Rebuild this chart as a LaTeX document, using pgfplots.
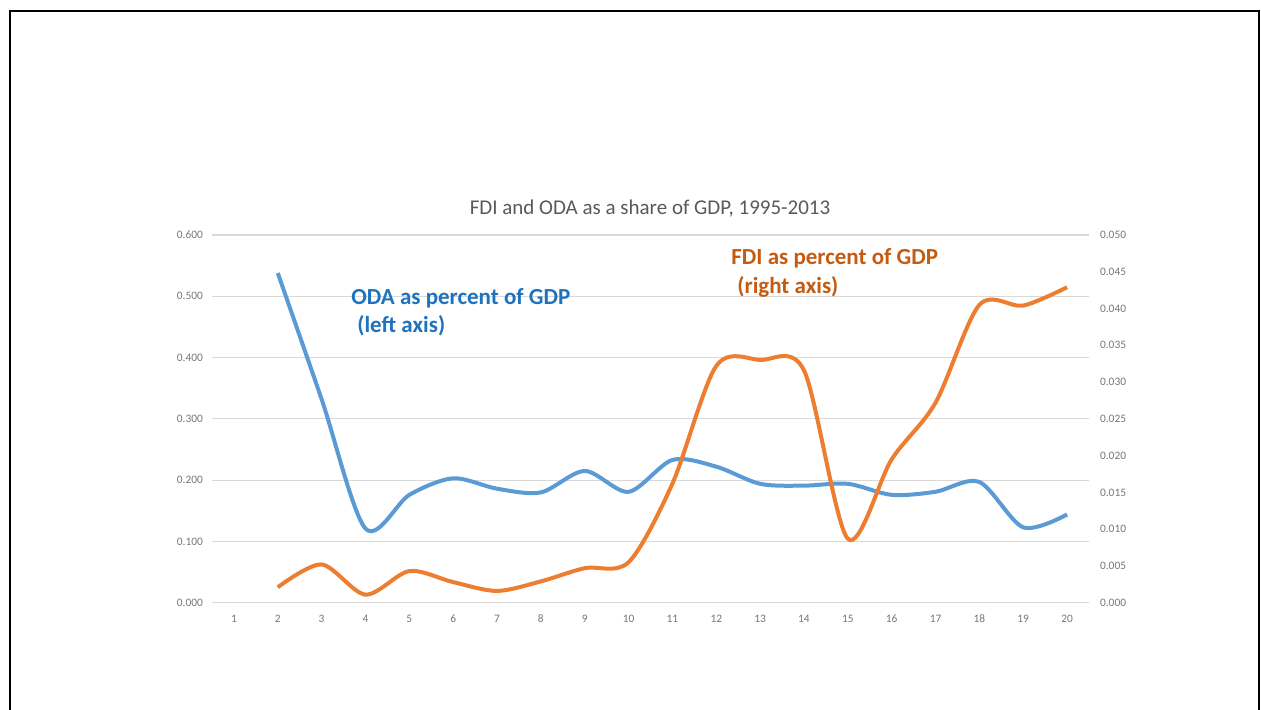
\documentclass[border=0pt]{standalone}
\usepackage{fontspec}
\setmainfont{Carlito}
\usepackage{pgfplots}
\pgfplotsset{compat=1.18}
\definecolor{odablue}{RGB}{91,155,213}
\definecolor{fdiorange}{RGB}{237,125,49}
\definecolor{odatext}{RGB}{30,115,190}
\definecolor{fditext}{RGB}{197,90,17}
\definecolor{gridgray}{RGB}{217,217,217}
\definecolor{ticktext}{RGB}{118,118,118}
\definecolor{titletext}{RGB}{89,89,89}
\begin{document}
\begin{tikzpicture}
\path[use as bounding box] (0,0) rectangle (630.5pt,354.5pt);
\draw[line width=1.1pt,black] (5pt,-2pt) -- (5pt,349pt) -- (629.5pt,349pt) -- (629.5pt,-2pt);
\pgfplotsset{
  common/.style={
    at={(106pt,53.15pt)}, anchor=south west,
    scale only axis, width=438.5pt, height=183.85pt,
    xmin=0.5, xmax=20.5,
    axis line style={draw=none},
    major tick length=0pt,
    tick label style={font=\fontsize{5.7}{6}\selectfont, text=ticktext},
    /pgf/number format/assume math mode=true,
    scaled y ticks=false,
    clip=false,
  }
}
\begin{axis}[common,
  ymin=0, ymax=0.6, ytick={0,0.1,...,0.6},
  ymajorgrids, grid style={gridgray, line width=0.6pt},
  yticklabel style={/pgf/number format/fixed, /pgf/number format/fixed zerofill, /pgf/number format/precision=3, xshift=-1pt},
  xtick={1,...,20},
  xticklabel style={yshift=-2.5pt},
]
\addplot[odablue, line width=2pt, smooth, tension=0.5] coordinates {
(2,0.538) (3,0.332) (4,0.121) (5,0.176) (6,0.203) (7,0.186) (8,0.180)
(9,0.215) (10,0.181) (11,0.233) (12,0.222) (13,0.194) (14,0.191)
(15,0.194) (16,0.176) (17,0.181) (18,0.197) (19,0.123) (20,0.144)};
\end{axis}
\begin{axis}[common,
  axis x line=none,
  axis y line*=right,
  ymin=0, ymax=0.05, ytick={0,0.005,...,0.0501},
  yticklabel style={/pgf/number format/fixed, /pgf/number format/fixed zerofill, /pgf/number format/precision=3, xshift=2pt},
]
\addplot[fdiorange, line width=2pt, smooth, tension=0.5] coordinates {
(2,0.0021) (3,0.0052) (4,0.0011) (5,0.0043) (6,0.0028) (7,0.0016) (8,0.0029)
(9,0.0047) (10,0.0055) (11,0.0162) (12,0.0322) (13,0.0330) (14,0.0316)
(15,0.0087) (16,0.0195) (17,0.0272) (18,0.0405) (19,0.0404) (20,0.0429)};
\end{axis}
\node[font=\fontsize{10.5}{12}\selectfont, text=titletext] at (325pt,250pt) {FDI and ODA as a share of GDP, 1995-2013};
\node[font=\bfseries\fontsize{11.5}{13}\selectfont, text=odatext, anchor=west, inner sep=0pt] at (175.5pt,205.5pt) {ODA as percent of GDP};
\node[font=\bfseries\fontsize{11.5}{13}\selectfont, text=odatext, anchor=west, inner sep=0pt] at (178.5pt,191.5pt) {(left axis)};
\node[font=\bfseries\fontsize{11.5}{13}\selectfont, text=fditext, anchor=west, inner sep=0pt] at (365.5pt,225.5pt) {FDI as percent of GDP};
\node[font=\bfseries\fontsize{11.5}{13}\selectfont, text=fditext, anchor=west, inner sep=0pt] at (368.5pt,211pt) {(right axis)};
\end{tikzpicture}
\end{document}
